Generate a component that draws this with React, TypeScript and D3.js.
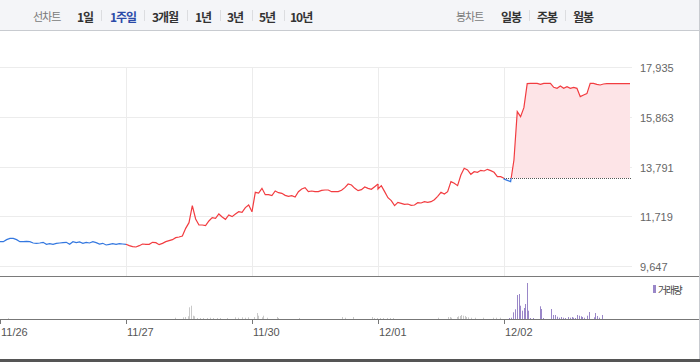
import React from "react";
import * as d3 from "d3";

// ---------- data ----------
const dayLabels = ["11/26", "11/27", "11/30", "12/01", "12/02"];
const yTicks = [9647, 11719, 13791, 15863, 17935];
const prevClose = 13300;
const periodTabs = ["1일", "1주일", "3개월", "1년", "3년", "5년", "10년"];
const candleTabs = ["일봉", "주봉", "월봉"];
const activePeriod = "1주일";

const priceDay1 = [10660, 10660, 10744, 10799, 10799, 10744, 10660, 10660, 10674, 10660, 10605, 10591, 10605, 10633, 10550, 10577, 10550, 10591, 10605, 10619, 10633, 10550, 10660, 10619, 10647, 10591, 10633, 10605, 10660, 10619, 10563, 10591, 10522, 10550, 10577, 10550, 10577, 10563, 10550];
const priceDay2 = [10550, 10494, 10452, 10439, 10494, 10563, 10550, 10550, 10633, 10619, 10536, 10591, 10660, 10702, 10744, 10827, 10855, 10897, 11216, 11452, 12160, 11605, 11355, 11355, 11327, 11522, 11660, 11632, 11813, 11688, 11591, 11771, 11702, 11813, 11910, 11882, 12077, 12188, 11910];
const priceDay3 = [11910, 12715, 12687, 12882, 12618, 12618, 12576, 12771, 12701, 12674, 12590, 12549, 12576, 12521, 12743, 12854, 12910, 12743, 12771, 12743, 12743, 12799, 12813, 12813, 12743, 12743, 12743, 12799, 12910, 13063, 13021, 12882, 12785, 12826, 12937, 12882, 12840, 12951, 13063];
const priceDay4 = [12854, 12993, 12743, 12493, 12368, 12160, 12299, 12257, 12215, 12229, 12174, 12188, 12285, 12271, 12327, 12299, 12327, 12410, 12549, 12715, 12646, 12743, 13160, 13090, 12993, 13437, 13715, 13645, 13465, 13576, 13548, 13631, 13604, 13673, 13618, 13548, 13368, 13370, 13300];
const priceDay5 = [13270, 13215, 13160, 14062, 16075, 15867, 16242, 17241, 17255, 17255, 17255, 17213, 17255, 17255, 17255, 17088, 17047, 17144, 17047, 17116, 17047, 17088, 17047, 16700, 16769, 16825, 17255, 17255, 17213, 17186, 17227, 17241, 17241, 17241, 17241, 17241, 17241, 17241, 17241];
const dayTrend = ["down", "up", "up", "up", "split"];

// volume: [minute after open, volume]
const volDay1 = [[26, 8]];
const volDay2 = [[152, 13], [177, 17], [184, 20], [191, 27], [196, 117], [201, 133], [206, 33], [211, 27], [219, 10], [229, 10], [239, 10], [250, 10], [260, 13], [270, 10], [281, 10], [291, 10], [312, 10], [337, 17], [348, 13], [358, 17], [368, 13], [379, 17]];
const volDay3 = [[6, 20], [15, 60], [20, 33], [30, 17], [35, 33], [45, 13], [76, 20], [81, 10], [145, 10], [278, 20], [288, 13], [314, 20], [371, 20], [377, 10], [387, 10]];
const volDay4 = [[6, 10], [16, 10], [27, 10], [37, 10], [47, 10], [186, 13], [217, 20], [222, 20], [227, 13], [243, 20], [248, 27], [253, 30], [258, 40], [263, 33], [268, 30], [273, 20], [278, 17], [289, 13], [299, 13], [325, 13], [356, 13], [366, 13], [377, 13]];
const volDay5 = [[15, 10], [22, 13], [29, 67], [35, 97], [41, 240], [47, 250], [50, 133], [57, 83], [63, 110], [66, 150], [72, 360], [75, 83], [81, 10], [91, 10], [112, 127], [115, 100], [122, 10], [146, 100], [152, 40], [157, 40], [163, 23], [169, 13], [177, 20], [184, 13], [189, 10], [199, 20], [204, 13], [210, 20], [214, 13], [221, 10], [227, 40], [231, 33], [237, 27], [242, 20], [249, 13], [256, 33], [263, 70], [279, 17], [283, 60], [289, 30], [295, 13], [304, 40]];

// ---------- layout ----------
const periodX = [77, 110, 152, 195, 227, 259, 290];
const periodSepX = [101, 144, 187, 220, 252, 284];
const candleX = [501, 537, 573];
const candleSepX = [529, 565];

const RED = "#f23c40";
const BLUE = "#3478e0";
const PURPLE = "#9a87c8";
const KFONT = "'Noto Sans CJK KR', 'Noto Sans', sans-serif";
const NFONT = "'Liberation Sans', Arial, sans-serif";

export default function App() {
  const x = d3.scaleLinear().domain([0, 5]).range([0, 630]);
  const y = d3.scaleLinear().domain([yTicks[0], yTicks[yTicks.length - 1]]).range([266, 67]);
  const yv = d3.scaleLinear().domain([0, 360]).range([319, 283]);
  const plotRight = 632;

  const days = [priceDay1, priceDay2, priceDay3, priceDay4, priceDay5];
  const series = days.map((arr, d) => {
    const pts = arr.map((v, i) => ({ t: d + i / (arr.length - 1), v }));
    if (d > 0) {
      const prev = days[d - 1];
      pts.unshift({ t: d, v: prev[prev.length - 1] });
    }
    return pts;
  });
  const line = d3.line<{ t: number; v: number }>().x((p) => x(p.t)).y((p) => y(p.v));
  const area = d3
    .area<{ t: number; v: number }>()
    .x((p) => x(p.t))
    .y0(y(prevClose))
    .y1((p) => y(p.v));

  const vols = [volDay1, volDay2, volDay3, volDay4, volDay5];
  const yRef = y(prevClose);

  return (
    <svg
      width={700}
      height={362}
      style={{ position: "fixed", left: 0, top: 0, background: "#fff" }}
    >
      <defs>
        <clipPath id="above">
          <rect x={0} y={0} width={700} height={yRef} />
        </clipPath>
        <clipPath id="below">
          <rect x={0} y={yRef} width={700} height={362 - yRef} />
        </clipPath>
      </defs>

      {/* tab bar */}
      <rect x={0} y={0} width={700} height={30} fill="#f4f5f8" />
      <line x1={0} x2={700} y1={30.5} y2={30.5} stroke="#c8cbd0" />
      <text x={33} y={16} fontFamily={KFONT} fontSize={11} fill="#7a7a7a" letterSpacing={-1} dominantBaseline="central">선차트</text>
      {periodTabs.map((t, i) => (
        <text key={t} x={periodX[i]} y={16} fontFamily={KFONT} fontSize={12} fontWeight="bold" letterSpacing={-1}
          fill={t === activePeriod ? "#2b4aa8" : "#333"} dominantBaseline="central">{t}</text>
      ))}
      {periodSepX.map((sx) => (
        <line key={sx} x1={sx + 0.5} x2={sx + 0.5} y1={10} y2={21} stroke="#dcdde0" />
      ))}
      <text x={456} y={16} fontFamily={KFONT} fontSize={11} fill="#7a7a7a" letterSpacing={-1} dominantBaseline="central">봉차트</text>
      {candleTabs.map((t, i) => (
        <text key={t} x={candleX[i]} y={16} fontFamily={KFONT} fontSize={12} fontWeight="bold" letterSpacing={-1}
          fill="#333" dominantBaseline="central">{t}</text>
      ))}
      {candleSepX.map((sx) => (
        <line key={sx} x1={sx + 0.5} x2={sx + 0.5} y1={10} y2={21} stroke="#dcdde0" />
      ))}

      {/* grid */}
      {yTicks.map((v) => (
        <line key={v} x1={0} x2={plotRight} y1={Math.round(y(v)) + 0.5} y2={Math.round(y(v)) + 0.5} stroke="#ececec" />
      ))}
      {dayLabels.map((l, d) =>
        d === 0 ? null : (
          <line key={l} x1={Math.round(x(d)) + 0.5} x2={Math.round(x(d)) + 0.5} y1={y(yTicks[yTicks.length - 1])} y2={276} stroke="#ececec" />
        )
      )}
      {yTicks.map((v) => (
        <text key={"l" + v} x={640} y={y(v) + 1} fontFamily={NFONT} fontSize={11} fill="#666" dominantBaseline="central">
          {d3.format(",")(v)}
        </text>
      ))}

      {/* area + reference */}
      <path d={area(series[4]) || ""} fill="#fde4e7" clipPath="url(#above)" />
      <line x1={x(4)} x2={plotRight} y1={Math.round(yRef) + 0.5} y2={Math.round(yRef) + 0.5} stroke="#555" strokeDasharray="1,1" />

      {/* price lines */}
      {series.map((pts, d) => {
        const trend = dayTrend[d];
        if (trend === "split") {
          return (
            <g key={d}>
              <path d={line(pts) || ""} fill="none" stroke={RED} strokeWidth={1.2} clipPath="url(#above)" />
              <path d={line(pts) || ""} fill="none" stroke={BLUE} strokeWidth={1.2} clipPath="url(#below)" />
            </g>
          );
        }
        return <path key={d} d={line(pts) || ""} fill="none" stroke={trend === "up" ? RED : BLUE} strokeWidth={1.2} />;
      })}

      {/* panel dividers */}
      <line x1={0} x2={700} y1={276.5} y2={276.5} stroke="#7a7a7a" />

      {/* volume */}
      {vols.map((arr, d) =>
        arr.map(([m, v], i) => (
          <rect key={d + "-" + i} x={Math.round(x(d + m / 390))} y={yv(v)} width={1} height={yv(0) - yv(v)}
            fill={d === 4 ? PURPLE : "#c9c9c9"} />
        ))
      )}
      <rect x={653} y={285} width={3} height={8} fill={PURPLE} />
      <text x={658} y={289.5} fontFamily={KFONT} fontSize={10} letterSpacing={-1.5} fill="#444" dominantBaseline="central">거래량</text>

      <line x1={0} x2={700} y1={319.5} y2={319.5} stroke="#777" />
      {dayLabels.map((l, d) => (
        <g key={"t" + l}>
          <line x1={Math.round(x(d)) + 0.5} x2={Math.round(x(d)) + 0.5} y1={320} y2={324} stroke="#777" />
          <text x={Math.round(x(d)) + 1} y={336} fontFamily={NFONT} fontSize={11} fill="#555">{l}</text>
        </g>
      ))}

      {/* frame */}
      <line x1={699.5} x2={699.5} y1={0} y2={362} stroke="#c8cbd0" />
      <rect x={0} y={359} width={700} height={3} fill="#555" />
    </svg>
  );
}
